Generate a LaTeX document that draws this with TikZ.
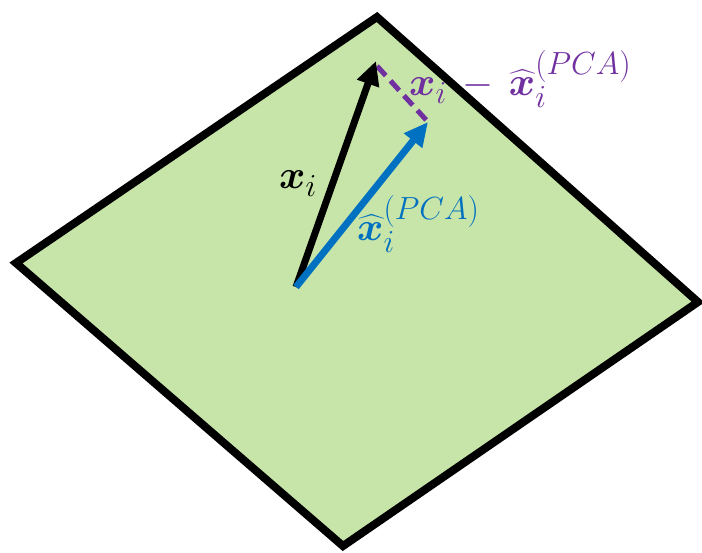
\RequirePackage{fix-cm}
\documentclass[tikz,border=0pt]{standalone}
\usepackage{amsmath}
\usepackage{bm}
\usetikzlibrary{arrows.meta}
\DeclareMathSizes{40}{40}{32}{24}
\definecolor{plane}{HTML}{C8E5A9}
\definecolor{pblue}{HTML}{0070C0}
\definecolor{ppurple}{HTML}{7030A0}
\begin{document}
\begin{tikzpicture}[x=1pt,y=-1pt,
  lbl/.style={font=\fontsize{40}{44}\selectfont, inner sep=0pt, anchor=base west},
  vec/.style={line width=7pt, -{Triangle[length=24pt,width=22pt]}},
  resid/.style={ppurple, line width=5pt, dash pattern=on 13pt off 7pt}]
\useasboundingbox (0,0) rectangle (702,553);
\draw[line width=8pt, fill=plane, line join=miter] (377,17) -- (698,302) -- (343,546) -- (16,263) -- cycle;
\coordinate (O) at (296,287);
\coordinate (X) at (376,61);
\coordinate (P) at (428,122);
\coordinate (Xs) at (377,66);
\draw[resid] (Xs) -- (P);
\draw[vec, black] (O) -- (X);
\draw[vec, pblue] (O) -- (P);
\node[lbl] (lx) at (279,189) {$\bm{x}_i$};
\node[lbl, text=ppurple] (lr) at (409,96) {$\bm{x}_i \,-\, \widehat{\bm{x}}_i^{(PCA)}$};
\node[lbl, text=pblue] (lp) at (357,241) {$\widehat{\bm{x}}_i^{(PCA)}$};
\end{tikzpicture}
\end{document}
